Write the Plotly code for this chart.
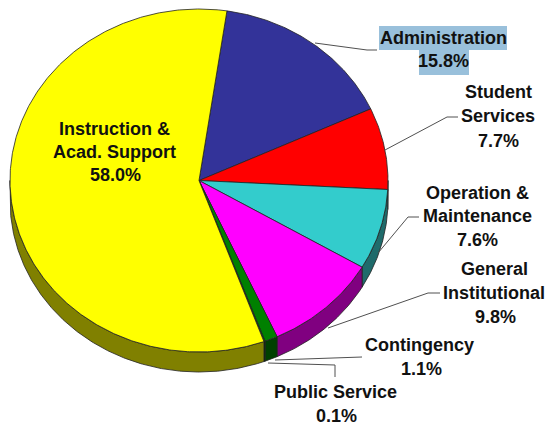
import math
import plotly.graph_objects as go

# Budget shares, clockwise starting from the top of the pie
categories = ["Administration", "Student Services", "Operation & Maintenance",
              "General Institutional", "Contingency", "Public Service",
              "Instruction & Acad. Support"]
shares = [15.8, 7.7, 7.6, 9.8, 1.1, 0.1, 58.0]
top_colors = ["#333399", "#FF0000", "#33CCCC", "#FF00FF", "#008000", "#006400", "#FFFF00"]
side_colors = ["#1A1A4D", "#800000", "#1F6B6B", "#800080", "#004000", "#003000", "#808000"]

# Pie geometry in plot units (one unit is one pixel)
CX, CY, RX, RY, DEPTH = 199, 180.5, 189, 171.5, 20
START_DEG = 8.5


def rim(t_deg, dy=0.0):
    t = math.radians(t_deg)
    return CX + RX * math.sin(t), CY - RY * math.cos(t) + dy


def arc(a, b, dy=0.0):
    n = max(2, int(abs(b - a) * 2) + 1)
    return [rim(a + (b - a) * i / (n - 1), dy) for i in range(n)]


spans = []
angle = START_DEG
total = sum(shares)
for s in shares:
    sweep = s / total * 360
    spans.append((angle, angle + sweep))
    angle += sweep

fig = go.Figure()


def polygon(points, fill):
    fig.add_trace(go.Scatter(
        x=[p[0] for p in points], y=[p[1] for p in points],
        mode="lines", fill="toself", fillcolor=fill,
        line=dict(color="#222222", width=0.8), hoverinfo="skip", showlegend=False,
    ))


# Side wall: only the front half of the rim (90 to 270 degrees) is visible
for (a, b), color in zip(spans, side_colors):
    lo, hi = max(a, 90), min(b, 270)
    if hi > lo:
        polygon(arc(lo, hi) + arc(hi, lo, DEPTH) + [rim(lo)], color)

# Top face
for (a, b), color in zip(spans, top_colors):
    polygon([(CX, CY)] + arc(a, b) + [(CX, CY)], color)

# Text lines: (text, x, y)
label_lines = [
    ("Instruction &", 114, 129), ("Acad. Support", 114, 152), ("58.0%", 115, 175),
    ("Administration", 443, 38), ("15.8%", 443, 61),
    ("Student", 498, 92), ("Services", 498, 116), ("7.7%", 498, 141),
    ("Operation &", 477, 193), ("Maintenance", 477, 216), ("7.6%", 477, 240),
    ("General", 494, 269), ("Institutional", 494, 293), ("9.8%", 495, 317),
    ("Contingency", 419, 345), ("1.1%", 421, 369),
    ("Public Service", 335, 392), ("0.1%", 336, 416),
]
annotations = [
    dict(text="<b>" + t + "</b>", x=x, y=y, xref="x", yref="y", showarrow=False,
         xanchor="center", yanchor="middle",
         font=dict(family="Liberation Sans", size=18, color="#111111"))
    for t, x, y in label_lines
]

# Leader lines from the rim to each outside label
leaders = [
    [(315, 43), (367, 50), (377, 50)],
    [(385, 150), (447, 117), (458, 117)],
    [(378, 253), (408, 217), (419, 217)],
    [(328, 328), (428, 293), (440, 293)],
    [(275, 360), (362, 357)],
    [(268, 363), (335, 365), (335, 377)],
]
shapes = [
    dict(type="path", xref="x", yref="y", layer="above",
         path="M " + " L ".join(f"{x},{y}" for x, y in pts),
         line=dict(color="#505050", width=1))
    for pts in leaders
]
# Highlight behind the Administration label
for x0, y0, x1, y1 in [(379, 26, 507, 50), (419, 50, 469, 75)]:
    shapes.append(dict(type="rect", xref="x", yref="y", layer="below",
                       x0=x0, y0=y0, x1=x1, y1=y1,
                       fillcolor="#99C0DB", line=dict(width=0)))

fig.update_layout(
    width=545, height=426, margin=dict(l=0, r=0, t=0, b=0),
    paper_bgcolor="white", plot_bgcolor="white", showlegend=False,
    xaxis=dict(range=[0, 545], visible=False, fixedrange=True),
    yaxis=dict(range=[426, 0], visible=False, fixedrange=True),
    annotations=annotations, shapes=shapes,
)
fig.write_html("out.html", config=dict(displayModeBar=False))
